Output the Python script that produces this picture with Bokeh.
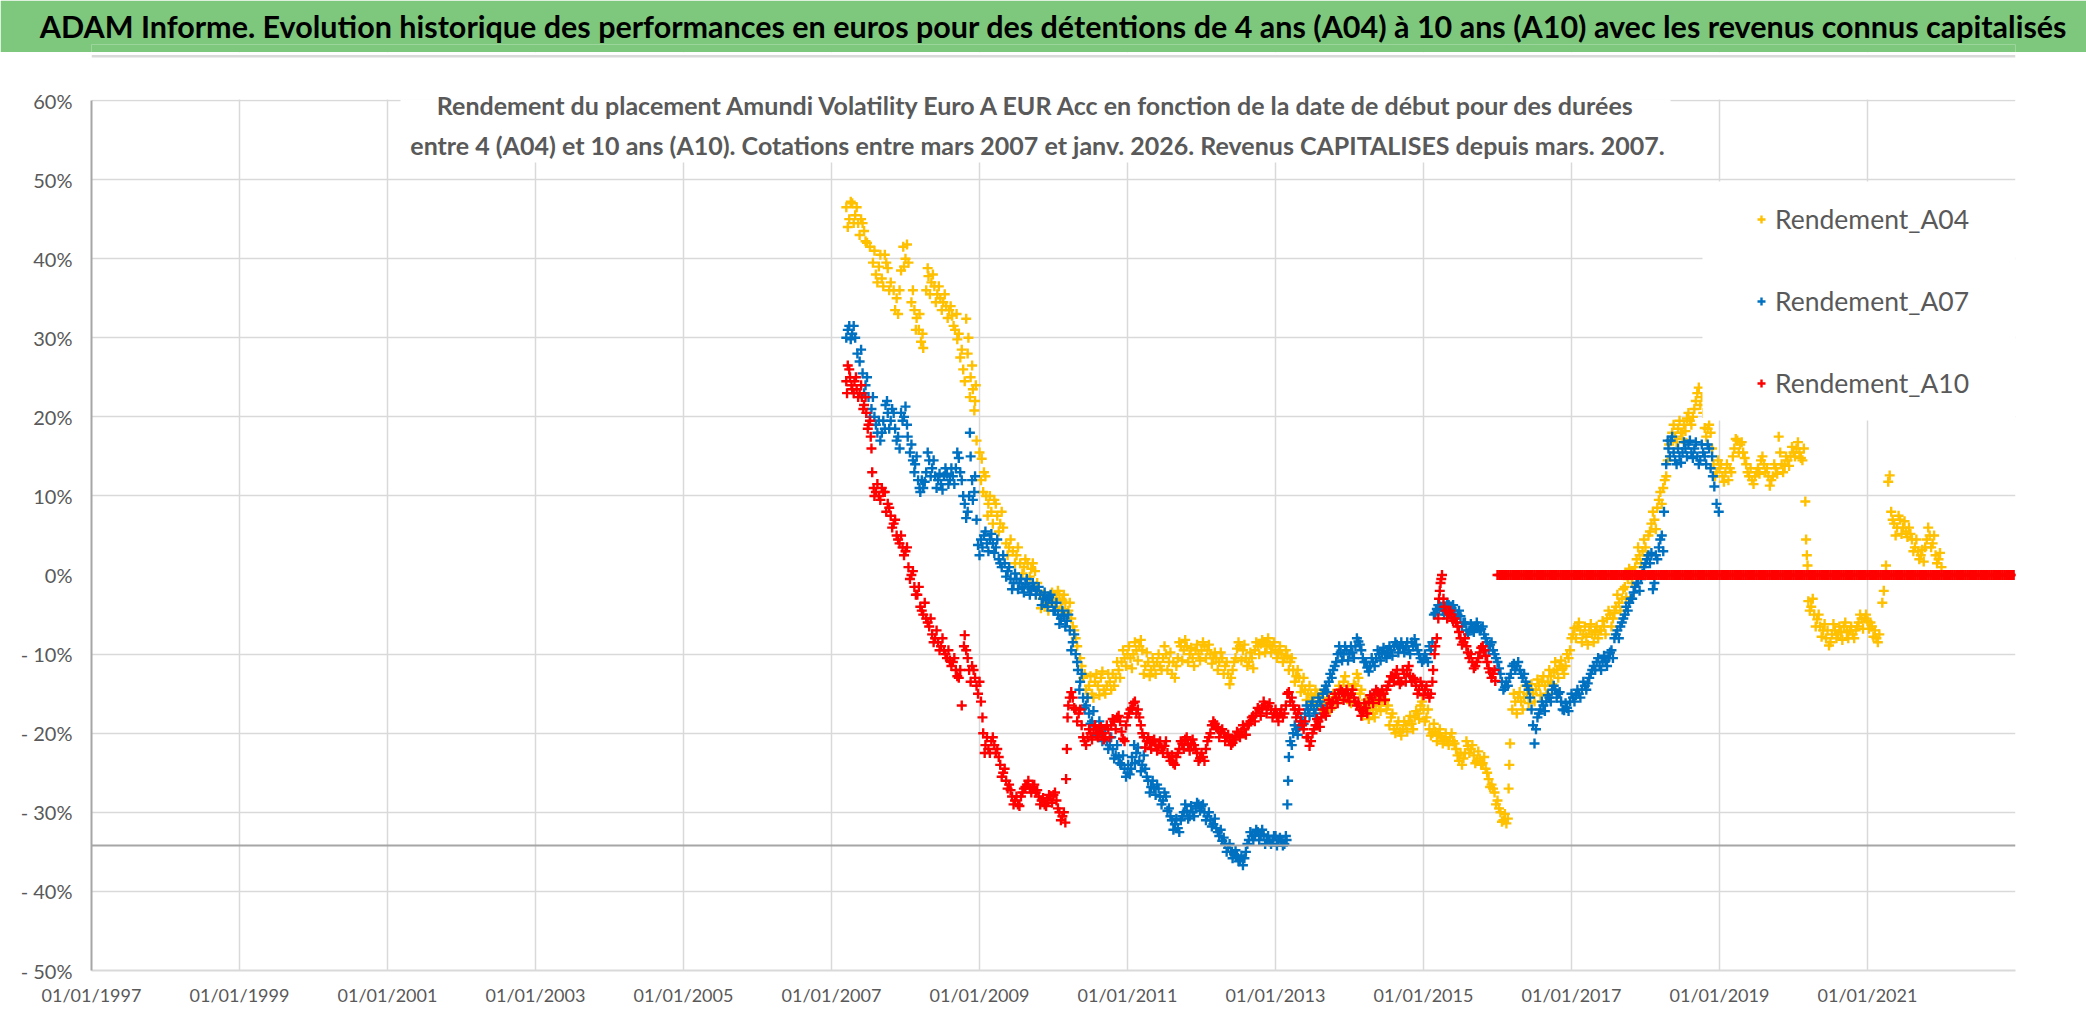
from bokeh.plotting import figure
from bokeh.models import (Range1d, FixedTicker, Span, BoxAnnotation, Label, Legend, LegendItem,
                          Title)
from bokeh.layouts import column
from bokeh.embed import file_html
from bokeh.resources import INLINE

# ---------------- texts ----------------
TITLE = ("ADAM Informe. Evolution historique des performances en euros pour des détentions "
         "de 4 ans (A04) à 10 ans (A10) avec les revenus connus capitalisés")
SUBTITLE_1 = ("Rendement du placement Amundi Volatility Euro A EUR Acc en fonction de la date "
              "de début pour des durées")
SUBTITLE_2 = ("entre 4 (A04) et 10 ans (A10). Cotations entre mars 2007 et janv. 2026. "
              "Revenus CAPITALISES depuis mars. 2007.")
SERIES_NAMES = ["Rendement_A04", "Rendement_A07", "Rendement_A10"]
SERIES_COLORS = ["#FFC000", "#0070C0", "#FF0000"]

X_TICKS = [1997, 1999, 2001, 2003, 2005, 2007, 2009, 2011, 2013, 2015, 2017, 2019, 2021]
X_TICK_LABELS = ["01/01/1997", "01/01/1999", "01/01/2001", "01/01/2003", "01/01/2005",
                 "01/01/2007", "01/01/2009", "01/01/2011", "01/01/2013", "01/01/2015",
                 "01/01/2017", "01/01/2019", "01/01/2021"]
Y_TICKS = [-50, -40, -30, -20, -10, 0, 10, 20, 30, 40, 50, 60]
Y_TICK_LABELS = ["- 50%", "- 40%", "- 30%", "- 20%", "- 10%", "0%",
                 "10%", "20%", "30%", "40%", "50%", "60%"]
X_MIN, X_MAX = 1997, 2023
Y_MIN, Y_MAX = -50, 60
AXIS_CROSS = -34.2

# ---------------- data: (start date as decimal year, return in %) ----------------
# main trace of each band
A04 = [
 (2007.20, 46.5), (2007.24, 45.0), (2007.28, 47.0), (2007.32, 45.5), (2007.36, 44.5),
 (2007.40, 45.0), (2007.44, 43.5), (2007.48, 42.0), (2007.52, 41.5), (2007.56, 39.5),
 (2007.60, 38.0), (2007.64, 39.0), (2007.68, 37.5), (2007.72, 40.5), (2007.76, 38.8),
 (2007.80, 37.0), (2007.84, 36.0), (2007.88, 35.0), (2007.90, 33.0), (2007.94, 38.5),
 (2007.97, 41.5), (2008.00, 40.0), (2008.04, 39.5), (2008.08, 34.5), (2008.12, 33.5),
 (2008.15, 32.5), (2008.18, 31.0), (2008.21, 29.5), (2008.24, 28.7), (2008.28, 36.0),
 (2008.31, 37.8), (2008.35, 37.0), (2008.39, 36.5), (2008.43, 35.5), (2008.47, 35.0),
 (2008.51, 34.5), (2008.55, 34.0), (2008.59, 33.5), (2008.63, 32.8), (2008.67, 31.0),
 (2008.70, 29.8), (2008.74, 27.5), (2008.78, 26.0), (2008.82, 32.4), (2008.85, 30.0),
 (2008.88, 25.0), (2008.91, 23.5), (2008.94, 22.0), (2008.96, 17.0), (2009.00, 15.5),
 (2009.03, 14.7), (2009.06, 13.0), (2009.09, 10.0), (2009.12, 9.0), (2009.16, 8.0),
 (2009.20, 9.5), (2009.24, 7.5), (2009.28, 6.5), (2009.32, 6.0), (2009.36, 4.0),
 (2009.40, 3.5), (2009.45, 3.0), (2009.50, 2.5), (2009.55, 1.5), (2009.60, 1.0),
 (2009.65, 1.5), (2009.70, 0.8), (2009.75, 0.5), (2009.80, -2.0), (2009.85, -3.0),
 (2009.90, -3.5), (2009.95, -3.3), (2010.00, -3.0), (2010.04, -3.0), (2010.08, -2.5),
 (2010.12, -3.2), (2010.16, -3.5), (2010.20, -4.5), (2010.24, -5.5), (2010.28, -7.0),
 (2010.32, -9.0), (2010.36, -10.5), (2010.40, -13.0), (2010.44, -14.5), (2010.48, -14.0),
 (2010.52, -15.0), (2010.56, -13.5), (2010.60, -14.0), (2010.64, -13.0), (2010.68, -14.5),
 (2010.72, -14.0), (2010.76, -13.5), (2010.80, -12.5), (2010.84, -13.0), (2010.88, -12.0),
 (2010.92, -11.0), (2010.96, -10.5), (2011.00, -10.0), (2011.04, -10.5), (2011.08, -10.0),
 (2011.12, -9.5), (2011.16, -9.0), (2011.20, -9.5), (2011.24, -11.5), (2011.28, -11.0),
 (2011.32, -12.0), (2011.36, -11.5), (2011.40, -11.0), (2011.44, -11.5), (2011.48, -10.5),
 (2011.52, -10.0), (2011.56, -11.0), (2011.60, -12.5), (2011.64, -13.0), (2011.68, -10.5),
 (2011.72, -9.0), (2011.76, -9.5), (2011.80, -9.0), (2011.84, -10.0), (2011.88, -10.5),
 (2011.92, -9.5), (2011.96, -10.0), (2012.00, -9.5), (2012.04, -9.0), (2012.08, -9.5),
 (2012.12, -10.0), (2012.16, -10.5), (2012.20, -10.5), (2012.24, -11.0), (2012.28, -10.5),
 (2012.32, -11.5), (2012.36, -12.5), (2012.40, -13.0), (2012.44, -11.0), (2012.48, -9.3),
 (2012.52, -9.0), (2012.56, -9.5), (2012.60, -10.5), (2012.64, -11.0), (2012.68, -10.5),
 (2012.72, -9.5), (2012.76, -9.0), (2012.80, -8.7), (2012.84, -8.5), (2012.88, -9.0),
 (2012.92, -8.8), (2012.96, -9.0), (2013.00, -9.5), (2013.04, -9.8), (2013.08, -10.0),
 (2013.12, -10.5), (2013.16, -10.2), (2013.20, -11.0), (2013.24, -12.0), (2013.28, -12.8),
 (2013.32, -13.0), (2013.36, -14.0), (2013.40, -14.5), (2013.44, -15.0), (2013.48, -15.2),
 (2013.52, -15.5), (2013.56, -15.0), (2013.60, -15.5), (2013.64, -16.0), (2013.68, -16.3),
 (2013.72, -16.5), (2013.76, -16.0), (2013.80, -15.5), (2013.84, -15.0), (2013.88, -14.5),
 (2013.92, -13.5), (2013.96, -15.0), (2014.00, -15.5), (2014.04, -15.0), (2014.08, -14.0),
 (2014.12, -13.0), (2014.16, -14.5), (2014.20, -16.5), (2014.24, -17.5), (2014.28, -17.0),
 (2014.32, -17.5), (2014.36, -17.0), (2014.40, -16.5), (2014.44, -16.0), (2014.48, -15.7),
 (2014.52, -16.5), (2014.56, -18.0), (2014.60, -19.5), (2014.64, -19.0), (2014.68, -19.8),
 (2014.72, -19.5), (2014.76, -19.0), (2014.80, -18.5), (2014.84, -18.8), (2014.88, -18.0),
 (2014.92, -17.5), (2014.96, -16.5), (2015.00, -17.0), (2015.04, -18.0), (2015.08, -19.5),
 (2015.12, -20.0), (2015.16, -19.8), (2015.20, -20.2), (2015.24, -20.5), (2015.28, -20.8),
 (2015.32, -21.0), (2015.36, -20.5), (2015.40, -21.0), (2015.44, -22.0), (2015.48, -23.5),
 (2015.52, -24.0), (2015.56, -22.5), (2015.60, -21.6), (2015.64, -22.0), (2015.68, -22.8),
 (2015.72, -23.5), (2015.76, -23.2), (2015.80, -23.8), (2015.84, -24.5), (2015.88, -25.8),
 (2015.92, -26.5), (2015.96, -27.5), (2016.00, -28.5), (2016.04, -30.0), (2016.08, -31.0),
 (2016.12, -31.4), (2016.15, -27.0), (2016.16, -24.0), (2016.17, -21.3), (2016.20, -17.0),
 (2016.24, -16.0), (2016.28, -15.5), (2016.32, -16.0), (2016.36, -15.5), (2016.40, -15.0),
 (2016.44, -14.5), (2016.48, -15.0), (2016.52, -14.5), (2016.56, -14.0), (2016.60, -13.5),
 (2016.64, -14.0), (2016.68, -13.5), (2016.72, -12.8), (2016.76, -12.3), (2016.80, -12.0),
 (2016.84, -11.5), (2016.88, -11.8), (2016.92, -11.5), (2016.96, -10.5), (2017.00, -8.0),
 (2017.04, -6.7), (2017.08, -6.5), (2017.12, -7.0), (2017.16, -7.5), (2017.20, -7.8),
 (2017.24, -7.0), (2017.28, -7.5), (2017.32, -7.2), (2017.36, -8.0), (2017.40, -7.0),
 (2017.44, -6.5), (2017.48, -5.5), (2017.52, -5.0), (2017.56, -5.5), (2017.60, -4.0),
 (2017.64, -3.5), (2017.68, -3.0), (2017.72, -1.5), (2017.76, -0.5), (2017.80, 0.0),
 (2017.84, 0.5), (2017.88, 2.0), (2017.92, 2.5), (2017.96, 3.0), (2018.00, 3.5),
 (2018.04, 5.0), (2018.08, 6.5), (2018.12, 7.0), (2018.16, 8.5), (2018.20, 10.5),
 (2018.24, 11.0), (2018.28, 12.5), (2018.32, 16.5), (2018.36, 18.0), (2018.40, 17.5),
 (2018.44, 18.5), (2018.48, 18.0), (2018.52, 19.0), (2018.56, 19.8), (2018.60, 19.5),
 (2018.64, 20.0), (2018.68, 22.0), (2018.72, 23.7), (2018.76, 22.5), (2018.80, 18.6),
 (2018.84, 18.5), (2018.88, 18.0), (2018.92, 14.0), (2018.96, 13.0), (2019.00, 13.5),
 (2019.04, 12.5), (2019.08, 13.0), (2019.12, 12.0), (2019.16, 13.0), (2019.20, 16.0),
 (2019.24, 17.0), (2019.28, 16.5), (2019.32, 15.5), (2019.36, 14.0), (2019.40, 12.5),
 (2019.44, 12.0), (2019.48, 12.5), (2019.52, 13.5), (2019.56, 14.5), (2019.60, 14.0),
 (2019.64, 13.5), (2019.68, 11.3), (2019.72, 12.5), (2019.76, 13.5), (2019.80, 17.5),
 (2019.84, 14.0), (2019.88, 13.8), (2019.92, 14.5), (2019.96, 15.0), (2020.00, 15.5),
 (2020.04, 16.0), (2020.08, 15.5), (2020.12, 14.5), (2020.16, 9.3), (2020.17, 4.5),
 (2020.18, 2.5), (2020.19, 1.2), (2020.20, -3.3), (2020.24, -4.0), (2020.28, -5.0),
 (2020.32, -5.6), (2020.36, -6.5), (2020.40, -7.0), (2020.44, -8.0), (2020.48, -8.9),
 (2020.52, -7.5), (2020.56, -7.0), (2020.60, -7.5), (2020.64, -7.2), (2020.68, -6.5),
 (2020.72, -7.2), (2020.76, -7.0), (2020.80, -7.5), (2020.84, -7.0), (2020.88, -6.0),
 (2020.92, -5.5), (2020.96, -5.5), (2021.00, -5.8), (2021.04, -6.0), (2021.08, -7.8),
 (2021.12, -8.0), (2021.16, -7.5), (2021.20, -3.5), (2021.22, -2.0), (2021.25, 1.2),
 (2021.28, 11.8), (2021.30, 12.6), (2021.32, 8.0), (2021.36, 6.5), (2021.40, 6.0),
 (2021.44, 7.0), (2021.48, 6.0), (2021.52, 5.5), (2021.56, 6.0), (2021.60, 4.5),
 (2021.64, 3.5), (2021.68, 3.0), (2021.72, 2.5), (2021.76, 1.7), (2021.80, 4.5),
 (2021.84, 5.0), (2021.88, 4.0), (2021.92, 2.5), (2021.96, 2.0), (2022.00, 1.0),
]
# other edge of the band (daily spread)
A04_SPREAD = [
 (2007.22, 44.0), (2007.26, 47.2), (2007.30, 44.5), (2007.34, 46.5), (2007.38, 43.0),
 (2007.42, 44.5), (2007.46, 42.2), (2007.58, 41.0), (2007.62, 37.0), (2007.66, 40.5),
 (2007.70, 36.5), (2007.74, 39.5), (2007.78, 36.0), (2007.86, 33.5), (2007.92, 36.0),
 (2007.98, 39.0), (2008.02, 41.8), (2008.10, 36.0), (2008.14, 31.0), (2008.19, 33.0),
 (2008.23, 30.5), (2008.30, 38.8), (2008.33, 35.5), (2008.37, 38.0), (2008.41, 34.5),
 (2008.45, 36.5), (2008.49, 33.5), (2008.53, 35.5), (2008.57, 32.5), (2008.61, 34.0),
 (2008.65, 31.5), (2008.69, 33.0), (2008.72, 30.5), (2008.76, 28.5), (2008.80, 24.5),
 (2008.84, 28.0), (2008.87, 22.5), (2008.90, 26.5), (2008.93, 20.8), (2008.95, 24.0),
 (2009.02, 12.0), (2009.05, 10.5), (2009.08, 12.5), (2009.11, 7.5), (2009.14, 10.0),
 (2009.18, 6.5), (2009.22, 9.0), (2009.26, 5.5), (2009.30, 8.0), (2009.38, 2.5),
 (2009.42, 4.5), (2009.48, 1.5), (2009.52, 3.5), (2009.58, 0.2), (2009.62, 2.0),
 (2009.68, -0.2), (2009.72, 1.5), (2009.78, -1.0), (2009.83, -4.2), (2009.88, -2.5),
 (2009.93, -4.5), (2009.98, -2.2), (2010.02, -4.0), (2010.06, -2.0), (2010.10, -4.2),
 (2010.14, -2.5), (2010.18, -4.8), (2010.22, -3.5), (2010.26, -6.5), (2010.30, -8.0),
 (2010.38, -11.5), (2010.42, -12.5), (2010.46, -15.5), (2010.50, -12.8), (2010.54, -15.5),
 (2010.58, -12.5), (2010.62, -15.2), (2010.66, -12.2), (2010.70, -15.0), (2010.74, -12.5),
 (2010.78, -14.5), (2010.82, -14.0), (2010.86, -11.0), (2010.90, -13.0), (2010.94, -9.5),
 (2010.98, -11.5), (2011.02, -9.0), (2011.06, -11.8), (2011.10, -8.5), (2011.14, -10.8),
 (2011.18, -8.2), (2011.22, -12.5), (2011.26, -9.8), (2011.30, -12.8), (2011.34, -10.5),
 (2011.38, -12.5), (2011.42, -10.0), (2011.46, -12.0), (2011.50, -9.0), (2011.54, -12.0),
 (2011.58, -9.8), (2011.62, -11.0), (2011.66, -11.5), (2011.70, -8.5), (2011.74, -10.8),
 (2011.78, -8.2), (2011.82, -11.0), (2011.86, -9.2), (2011.90, -11.5), (2011.94, -8.8),
 (2011.98, -10.8), (2012.02, -8.5), (2012.06, -10.5), (2012.10, -8.8), (2012.14, -11.2),
 (2012.18, -9.8), (2012.22, -12.0), (2012.26, -9.8), (2012.30, -12.5), (2012.34, -11.0),
 (2012.38, -13.8), (2012.42, -12.0), (2012.46, -10.5), (2012.50, -8.5), (2012.54, -10.8),
 (2012.58, -8.8), (2012.62, -11.5), (2012.66, -9.8), (2012.70, -11.8), (2012.74, -8.5),
 (2012.78, -10.0), (2012.82, -8.2), (2012.86, -9.8), (2012.90, -8.0), (2012.94, -9.8),
 (2012.98, -8.5), (2013.02, -10.5), (2013.06, -9.0), (2013.10, -11.0), (2013.14, -9.5),
 (2013.18, -12.0), (2013.22, -10.5), (2013.26, -13.5), (2013.30, -12.0), (2013.34, -14.8),
 (2013.38, -13.0), (2013.42, -15.8), (2013.46, -14.0), (2013.50, -16.3), (2013.54, -14.5),
 (2013.58, -16.5), (2013.62, -15.0), (2013.66, -17.2), (2013.70, -15.5), (2013.74, -17.0),
 (2013.78, -15.0), (2013.82, -16.2), (2013.86, -14.0), (2013.90, -15.5), (2013.94, -12.8),
 (2013.98, -14.0), (2014.02, -16.2), (2014.06, -13.8), (2014.10, -12.5), (2014.14, -15.0),
 (2014.18, -17.8), (2014.22, -15.8), (2014.26, -18.2), (2014.30, -16.5), (2014.34, -18.0),
 (2014.38, -16.0), (2014.42, -17.2), (2014.46, -15.0), (2014.50, -17.0), (2014.54, -19.0),
 (2014.58, -17.5), (2014.62, -20.0), (2014.66, -18.5), (2014.70, -20.3), (2014.74, -18.5),
 (2014.78, -19.8), (2014.82, -17.8), (2014.86, -19.5), (2014.90, -17.2), (2014.94, -18.2),
 (2014.98, -16.0), (2015.02, -18.5), (2015.06, -17.0), (2015.10, -20.3), (2015.14, -18.8),
 (2015.18, -21.0), (2015.22, -19.5), (2015.26, -21.3), (2015.30, -20.0), (2015.34, -21.5),
 (2015.38, -20.0), (2015.42, -21.3), (2015.46, -22.8), (2015.50, -22.5), (2015.54, -23.2),
 (2015.58, -21.0), (2015.62, -22.5), (2015.66, -21.5), (2015.70, -23.8), (2015.74, -22.3),
 (2015.78, -24.0), (2015.82, -23.0), (2015.86, -25.0), (2015.90, -26.8), (2015.94, -27.0),
 (2015.98, -29.0), (2016.02, -29.5), (2016.06, -31.2), (2016.10, -30.2), (2016.14, -30.8),
 (2016.22, -15.0), (2016.26, -17.5), (2016.30, -14.8), (2016.34, -17.0), (2016.38, -14.0),
 (2016.42, -16.2), (2016.46, -13.8), (2016.50, -16.0), (2016.54, -13.2), (2016.58, -15.2),
 (2016.62, -12.8), (2016.66, -15.0), (2016.70, -12.0), (2016.74, -13.8), (2016.78, -11.0),
 (2016.82, -13.0), (2016.86, -10.8), (2016.90, -12.5), (2016.94, -10.0), (2016.98, -9.5),
 (2017.02, -7.5), (2017.06, -8.0), (2017.10, -6.0), (2017.14, -8.5), (2017.18, -6.5),
 (2017.22, -8.8), (2017.26, -6.2), (2017.30, -8.5), (2017.34, -6.5), (2017.38, -7.0),
 (2017.42, -5.8), (2017.46, -7.5), (2017.50, -4.5), (2017.54, -6.5), (2017.58, -4.8),
 (2017.62, -2.5), (2017.66, -4.5), (2017.70, -1.8), (2017.74, -2.8), (2017.78, 0.8),
 (2017.82, -1.0), (2017.86, 1.0), (2017.90, 3.5), (2017.94, 1.5), (2017.98, 4.5),
 (2018.02, 2.5), (2018.06, 5.5), (2018.10, 8.0), (2018.14, 5.8), (2018.18, 9.5),
 (2018.22, 9.0), (2018.26, 12.0), (2018.30, 14.5), (2018.34, 17.0), (2018.38, 19.0),
 (2018.42, 16.8), (2018.46, 19.5), (2018.50, 17.2), (2018.54, 18.2), (2018.58, 20.5),
 (2018.62, 19.0), (2018.66, 21.0), (2018.70, 23.0), (2018.74, 21.5), (2018.78, 20.5),
 (2018.82, 17.5), (2018.86, 19.0), (2018.90, 16.0), (2018.94, 12.5), (2018.98, 14.5),
 (2019.02, 14.0), (2019.06, 11.8), (2019.10, 14.0), (2019.14, 13.5), (2019.18, 15.0),
 (2019.22, 17.2), (2019.26, 15.5), (2019.30, 16.8), (2019.34, 14.8), (2019.38, 13.0),
 (2019.42, 13.5), (2019.46, 11.5), (2019.50, 13.0), (2019.54, 12.8), (2019.58, 15.0),
 (2019.62, 13.0), (2019.66, 12.5), (2019.70, 12.0), (2019.74, 14.0), (2019.78, 12.8),
 (2019.82, 15.5), (2019.86, 13.0), (2019.90, 15.0), (2019.94, 13.8), (2019.98, 16.2),
 (2020.02, 15.0), (2020.06, 16.8), (2020.10, 14.8), (2020.14, 16.0), (2020.22, -4.5),
 (2020.26, -3.0), (2020.30, -6.5), (2020.34, -5.0), (2020.38, -7.8), (2020.42, -6.2),
 (2020.46, -7.0), (2020.50, -8.5), (2020.54, -6.2), (2020.58, -8.0), (2020.62, -6.5),
 (2020.66, -8.2), (2020.70, -6.0), (2020.74, -8.0), (2020.78, -6.5), (2020.82, -8.0),
 (2020.86, -6.5), (2020.90, -5.0), (2020.94, -6.8), (2020.98, -5.0), (2021.02, -6.8),
 (2021.06, -6.5), (2021.10, -7.0), (2021.14, -8.5), (2021.34, 7.0), (2021.38, 5.0),
 (2021.42, 7.5), (2021.46, 5.2), (2021.50, 6.8), (2021.54, 4.8), (2021.58, 5.2),
 (2021.62, 3.0), (2021.66, 4.5), (2021.70, 2.0), (2021.74, 3.2), (2021.78, 3.5),
 (2021.82, 6.0), (2021.86, 3.5), (2021.90, 5.0), (2021.94, 1.5), (2021.98, 2.8),
]

A07 = [
 (2007.20, 30.0), (2007.24, 31.5), (2007.28, 30.5), (2007.32, 30.0), (2007.35, 28.0),
 (2007.38, 27.0), (2007.42, 25.5), (2007.46, 24.0), (2007.50, 22.5), (2007.54, 21.0),
 (2007.58, 20.0), (2007.62, 18.0), (2007.66, 17.0), (2007.70, 19.5), (2007.73, 21.5),
 (2007.76, 20.5), (2007.80, 19.5), (2007.84, 20.5), (2007.88, 17.0), (2007.92, 16.0),
 (2007.96, 19.5), (2008.00, 21.3), (2008.03, 17.5), (2008.06, 15.5), (2008.10, 14.5),
 (2008.13, 14.0), (2008.17, 12.0), (2008.20, 10.5), (2008.24, 11.0), (2008.28, 13.0),
 (2008.32, 14.5), (2008.36, 13.5), (2008.40, 12.5), (2008.44, 12.0), (2008.48, 11.5),
 (2008.52, 12.5), (2008.56, 12.8), (2008.60, 12.0), (2008.64, 12.5), (2008.68, 13.5),
 (2008.72, 14.8), (2008.76, 12.0), (2008.80, 9.0), (2008.84, 8.0), (2008.87, 18.0),
 (2008.90, 12.0), (2008.93, 10.5), (2008.96, 7.0), (2008.98, 3.8), (2009.02, 4.5),
 (2009.06, 5.0), (2009.10, 4.0), (2009.14, 4.5), (2009.18, 4.0), (2009.22, 3.5),
 (2009.26, 2.0), (2009.30, 1.0), (2009.34, 1.5), (2009.38, 0.5), (2009.42, -0.5),
 (2009.46, -1.0), (2009.50, -0.5), (2009.54, -1.0), (2009.58, -1.5), (2009.62, -1.2),
 (2009.66, -1.5), (2009.70, -1.8), (2009.74, -1.5), (2009.78, -2.0), (2009.82, -2.5),
 (2009.86, -3.0), (2009.90, -3.2), (2009.94, -2.8), (2009.98, -3.5), (2010.02, -4.5),
 (2010.06, -5.0), (2010.10, -5.5), (2010.14, -5.2), (2010.18, -5.8), (2010.22, -7.0),
 (2010.26, -8.5), (2010.30, -10.0), (2010.33, -12.0), (2010.36, -13.5), (2010.40, -15.5),
 (2010.44, -16.5), (2010.48, -17.5), (2010.52, -18.5), (2010.56, -19.0), (2010.60, -19.5),
 (2010.64, -20.0), (2010.68, -20.5), (2010.72, -21.0), (2010.76, -21.5), (2010.80, -22.0),
 (2010.84, -22.8), (2010.88, -23.0), (2010.92, -24.0), (2010.96, -24.5), (2011.00, -25.0),
 (2011.03, -25.2), (2011.06, -23.0), (2011.09, -21.5), (2011.12, -22.5), (2011.16, -23.5),
 (2011.20, -24.0), (2011.24, -24.5), (2011.28, -26.0), (2011.32, -26.8), (2011.36, -27.0),
 (2011.40, -26.5), (2011.44, -28.0), (2011.48, -28.5), (2011.52, -28.0), (2011.56, -29.5),
 (2011.60, -31.0), (2011.64, -31.5), (2011.68, -32.0), (2011.72, -31.0), (2011.76, -30.0),
 (2011.80, -29.8), (2011.84, -30.5), (2011.88, -30.0), (2011.92, -29.5), (2011.96, -29.0),
 (2012.00, -29.2), (2012.04, -30.0), (2012.08, -30.5), (2012.12, -31.0), (2012.16, -31.5),
 (2012.20, -32.0), (2012.24, -33.0), (2012.28, -33.6), (2012.32, -34.0), (2012.36, -34.5),
 (2012.40, -35.0), (2012.44, -35.3), (2012.48, -35.5), (2012.52, -36.0), (2012.56, -36.7),
 (2012.60, -35.0), (2012.64, -33.5), (2012.68, -33.0), (2012.72, -32.8), (2012.76, -32.5),
 (2012.80, -33.0), (2012.84, -32.8), (2012.88, -33.5), (2012.92, -33.7), (2012.96, -33.5),
 (2013.00, -33.0), (2013.04, -33.5), (2013.08, -33.7), (2013.12, -34.0), (2013.15, -33.5),
 (2013.16, -29.0), (2013.17, -26.0), (2013.18, -23.0), (2013.20, -21.0), (2013.24, -20.0),
 (2013.28, -19.5), (2013.32, -19.2), (2013.36, -18.5), (2013.40, -17.5), (2013.44, -17.0),
 (2013.48, -16.5), (2013.52, -17.0), (2013.56, -16.5), (2013.60, -16.0), (2013.64, -15.0),
 (2013.68, -14.0), (2013.72, -13.5), (2013.76, -13.0), (2013.80, -11.5), (2013.84, -10.0),
 (2013.88, -9.8), (2013.92, -10.0), (2013.96, -9.5), (2014.00, -10.0), (2014.04, -9.8),
 (2014.08, -9.0), (2014.12, -8.4), (2014.16, -9.5), (2014.20, -11.0), (2014.24, -11.7),
 (2014.28, -11.5), (2014.32, -11.0), (2014.36, -10.5), (2014.40, -10.0), (2014.44, -9.8),
 (2014.48, -10.0), (2014.52, -9.8), (2014.56, -9.5), (2014.60, -9.0), (2014.64, -8.8),
 (2014.68, -9.0), (2014.72, -9.2), (2014.76, -9.0), (2014.80, -9.5), (2014.84, -8.5),
 (2014.88, -8.1), (2014.92, -9.5), (2014.96, -10.5), (2015.00, -10.7), (2015.04, -10.5),
 (2015.08, -9.0), (2015.12, -8.5), (2015.14, -5.0), (2015.18, -4.3), (2015.22, -4.0),
 (2015.26, -4.5), (2015.30, -4.0), (2015.34, -3.8), (2015.38, -4.2), (2015.42, -4.5),
 (2015.46, -5.0), (2015.50, -5.2), (2015.54, -6.0), (2015.58, -7.0), (2015.62, -7.0),
 (2015.66, -6.8), (2015.70, -6.5), (2015.74, -6.5), (2015.78, -6.8), (2015.82, -7.5),
 (2015.86, -8.5), (2015.90, -8.8), (2015.94, -9.5), (2015.98, -10.5), (2016.02, -11.8),
 (2016.06, -13.5), (2016.10, -14.2), (2016.14, -14.0), (2016.18, -12.5), (2016.22, -11.2),
 (2016.26, -11.5), (2016.30, -12.0), (2016.34, -13.0), (2016.38, -13.5), (2016.42, -14.5),
 (2016.46, -17.0), (2016.48, -19.0), (2016.50, -21.3), (2016.54, -18.0), (2016.58, -17.0),
 (2016.62, -16.5), (2016.66, -16.0), (2016.70, -15.5), (2016.74, -14.5), (2016.78, -14.5),
 (2016.82, -15.0), (2016.86, -16.0), (2016.90, -17.1), (2016.94, -16.8), (2016.98, -16.0),
 (2017.02, -15.5), (2017.06, -15.2), (2017.10, -15.0), (2017.14, -14.5), (2017.18, -14.0),
 (2017.22, -13.7), (2017.26, -12.5), (2017.30, -11.5), (2017.34, -11.0), (2017.38, -11.5),
 (2017.42, -11.0), (2017.46, -10.8), (2017.50, -10.5), (2017.54, -9.5), (2017.58, -8.0),
 (2017.62, -7.0), (2017.66, -6.5), (2017.70, -5.5), (2017.74, -4.0), (2017.78, -3.5),
 (2017.82, -3.0), (2017.86, -1.5), (2017.90, -1.0), (2017.94, -0.5), (2017.98, 1.0),
 (2018.02, 2.0), (2018.06, 1.5), (2018.10, -1.8), (2018.14, 2.5), (2018.18, 3.5),
 (2018.22, 5.0), (2018.25, 8.0), (2018.28, 14.0), (2018.31, 16.0), (2018.34, 17.0),
 (2018.38, 15.5), (2018.42, 14.0), (2018.46, 15.0), (2018.50, 15.5), (2018.54, 16.0),
 (2018.58, 16.5), (2018.62, 15.5), (2018.66, 16.0), (2018.70, 15.0), (2018.74, 14.5),
 (2018.78, 15.5), (2018.82, 14.0), (2018.86, 16.0), (2018.90, 15.0), (2018.93, 11.2),
 (2018.96, 9.0), (2018.99, 8.0),
]
A07_SPREAD = [
 (2007.22, 31.0), (2007.26, 29.8), (2007.30, 31.5), (2007.40, 28.5), (2007.44, 23.0),
 (2007.48, 25.0), (2007.52, 20.0), (2007.56, 22.5), (2007.60, 19.0), (2007.64, 19.5),
 (2007.68, 18.0), (2007.72, 18.5), (2007.75, 22.0), (2007.78, 18.5), (2007.82, 21.0),
 (2007.86, 18.5), (2007.90, 17.5), (2007.94, 20.5), (2007.98, 20.0), (2008.02, 19.0),
 (2008.08, 16.5), (2008.12, 13.0), (2008.15, 15.0), (2008.19, 11.0), (2008.22, 12.0),
 (2008.26, 11.8), (2008.30, 15.5), (2008.34, 12.5), (2008.38, 14.5), (2008.42, 11.0),
 (2008.46, 12.8), (2008.50, 10.8), (2008.54, 13.5), (2008.58, 11.5), (2008.62, 13.5),
 (2008.66, 11.5), (2008.70, 15.5), (2008.74, 13.0), (2008.78, 10.0), (2008.82, 7.2),
 (2008.86, 10.0), (2008.88, 15.0), (2008.91, 9.5), (2008.94, 12.5), (2009.00, 2.5),
 (2009.04, 3.5), (2009.08, 5.5), (2009.12, 3.0), (2009.16, 5.2), (2009.20, 2.8),
 (2009.24, 4.5), (2009.28, 1.5), (2009.32, 2.5), (2009.36, -0.2), (2009.40, 1.0),
 (2009.44, -1.8), (2009.48, 0.2), (2009.52, -1.8), (2009.56, -0.5), (2009.60, -2.2),
 (2009.64, -0.5), (2009.68, -2.5), (2009.72, -1.0), (2009.76, -2.5), (2009.80, -1.5),
 (2009.84, -3.8), (2009.88, -2.2), (2009.92, -4.0), (2009.96, -2.5), (2010.00, -4.5),
 (2010.04, -3.5), (2010.08, -6.2), (2010.12, -4.5), (2010.16, -6.5), (2010.20, -5.0),
 (2010.24, -9.5), (2010.28, -7.5), (2010.32, -11.0), (2010.35, -14.5), (2010.38, -12.5),
 (2010.42, -16.8), (2010.46, -15.5), (2010.50, -18.8), (2010.54, -17.2), (2010.58, -20.2),
 (2010.62, -18.5), (2010.66, -21.0), (2010.70, -19.5), (2010.74, -22.0), (2010.78, -20.5),
 (2010.82, -23.2), (2010.86, -21.5), (2010.90, -23.8), (2010.94, -22.8), (2010.98, -25.5),
 (2011.01, -24.0), (2011.05, -24.5), (2011.10, -23.8), (2011.14, -21.8), (2011.18, -24.8),
 (2011.22, -22.8), (2011.26, -25.5), (2011.30, -27.5), (2011.34, -26.0), (2011.38, -27.8),
 (2011.42, -27.0), (2011.46, -29.0), (2011.50, -27.5), (2011.54, -29.8), (2011.58, -30.5),
 (2011.62, -32.2), (2011.66, -30.8), (2011.70, -32.5), (2011.74, -30.5), (2011.78, -29.0),
 (2011.82, -30.8), (2011.86, -29.2), (2011.90, -30.5), (2011.94, -28.8), (2011.98, -29.8),
 (2012.02, -29.0), (2012.06, -31.0), (2012.10, -30.0), (2012.14, -31.8), (2012.18, -30.8),
 (2012.22, -32.5), (2012.26, -32.2), (2012.30, -33.2), (2012.34, -35.0), (2012.38, -34.0),
 (2012.42, -35.8), (2012.46, -34.8), (2012.50, -36.2), (2012.54, -35.5), (2012.58, -35.8),
 (2012.62, -34.0), (2012.66, -32.5), (2012.70, -33.5), (2012.74, -32.2), (2012.78, -33.5),
 (2012.82, -32.2), (2012.86, -34.0), (2012.90, -33.0), (2012.94, -34.0), (2012.98, -33.0),
 (2013.02, -34.2), (2013.06, -33.2), (2013.10, -34.2), (2013.14, -33.0), (2013.22, -21.5),
 (2013.26, -19.0), (2013.30, -20.2), (2013.34, -18.0), (2013.38, -18.8), (2013.42, -16.5),
 (2013.46, -17.8), (2013.50, -16.0), (2013.54, -17.5), (2013.58, -15.5), (2013.62, -16.5),
 (2013.66, -14.5), (2013.70, -14.8), (2013.74, -12.5), (2013.78, -12.0), (2013.82, -11.0),
 (2013.86, -9.0), (2013.90, -10.8), (2013.94, -9.0), (2013.98, -10.8), (2014.02, -9.0),
 (2014.06, -10.5), (2014.10, -8.0), (2014.14, -8.8), (2014.18, -10.5), (2014.22, -11.0),
 (2014.26, -12.2), (2014.30, -10.5), (2014.34, -11.5), (2014.38, -9.5), (2014.42, -10.8),
 (2014.46, -9.2), (2014.50, -10.5), (2014.54, -9.0), (2014.58, -10.2), (2014.62, -8.5),
 (2014.66, -9.8), (2014.70, -8.5), (2014.74, -9.8), (2014.78, -8.5), (2014.82, -10.0),
 (2014.86, -9.0), (2014.90, -8.8), (2014.94, -10.0), (2014.98, -11.0), (2015.02, -10.0),
 (2015.06, -11.0), (2015.10, -9.5), (2015.16, -4.8), (2015.20, -3.8), (2015.24, -4.0),
 (2015.28, -5.0), (2015.32, -3.5), (2015.36, -4.8), (2015.40, -3.8), (2015.44, -5.5),
 (2015.48, -4.5), (2015.52, -6.5), (2015.56, -6.0), (2015.60, -7.5), (2015.64, -6.2),
 (2015.68, -7.2), (2015.72, -6.0), (2015.76, -7.0), (2015.80, -6.5), (2015.84, -8.0),
 (2015.88, -9.5), (2015.92, -8.5), (2015.96, -10.0), (2016.00, -11.0), (2016.04, -12.5),
 (2016.08, -14.5), (2016.12, -13.5), (2016.16, -13.0), (2016.20, -11.5), (2016.24, -12.0),
 (2016.28, -11.0), (2016.32, -12.5), (2016.36, -12.5), (2016.40, -14.0), (2016.44, -15.5),
 (2016.52, -19.5), (2016.56, -17.5), (2016.60, -16.0), (2016.64, -17.2), (2016.68, -15.2),
 (2016.72, -16.0), (2016.76, -14.0), (2016.80, -15.5), (2016.84, -14.8), (2016.88, -17.0),
 (2016.92, -16.2), (2016.96, -17.2), (2017.00, -15.0), (2017.04, -16.0), (2017.08, -14.5),
 (2017.12, -15.5), (2017.16, -13.5), (2017.20, -14.5), (2017.24, -13.0), (2017.28, -12.0),
 (2017.32, -12.0), (2017.36, -10.5), (2017.40, -12.0), (2017.44, -10.2), (2017.48, -11.5),
 (2017.52, -9.8), (2017.56, -10.5), (2017.60, -7.5), (2017.64, -8.0), (2017.68, -6.0),
 (2017.72, -5.0), (2017.76, -4.5), (2017.80, -3.0), (2017.84, -2.2), (2017.88, -1.0),
 (2017.92, -2.0), (2017.96, 0.2), (2018.00, 1.5), (2018.04, 2.5), (2018.08, 2.8),
 (2018.12, -1.0), (2018.16, 2.0), (2018.20, 4.5), (2018.24, 3.0), (2018.30, 17.0),
 (2018.33, 15.0), (2018.36, 17.5), (2018.40, 14.5), (2018.44, 16.0), (2018.48, 14.2),
 (2018.52, 16.8), (2018.56, 15.0), (2018.60, 17.0), (2018.64, 14.8), (2018.68, 16.8),
 (2018.72, 14.0), (2018.76, 16.5), (2018.80, 15.0), (2018.84, 16.5), (2018.88, 13.5),
 (2018.91, 12.5),
]

A10 = [
 (2007.20, 24.5), (2007.22, 26.5), (2007.25, 25.0), (2007.28, 23.5), (2007.31, 24.5),
 (2007.34, 23.5), (2007.38, 23.0), (2007.41, 22.5), (2007.44, 21.5), (2007.47, 20.5),
 (2007.50, 19.0), (2007.53, 17.5), (2007.55, 13.0), (2007.57, 11.0), (2007.60, 10.5),
 (2007.64, 10.0), (2007.68, 11.0), (2007.72, 10.5), (2007.76, 9.0), (2007.80, 7.5),
 (2007.84, 6.5), (2007.88, 5.0), (2007.92, 4.0), (2007.96, 3.5), (2008.00, 3.0),
 (2008.04, 1.0), (2008.08, 0.0), (2008.12, -1.5), (2008.16, -2.5), (2008.20, -4.0),
 (2008.24, -5.0), (2008.28, -5.5), (2008.32, -6.5), (2008.36, -7.5), (2008.40, -8.0),
 (2008.44, -8.5), (2008.48, -9.0), (2008.52, -9.5), (2008.56, -10.5), (2008.60, -10.8),
 (2008.64, -11.0), (2008.68, -12.0), (2008.72, -13.0), (2008.76, -16.5), (2008.80, -7.6),
 (2008.82, -9.5), (2008.86, -12.0), (2008.90, -11.5), (2008.94, -13.0), (2008.98, -15.0),
 (2009.02, -16.0), (2009.05, -20.0), (2009.08, -21.5), (2009.12, -22.0), (2009.16, -21.0),
 (2009.20, -21.5), (2009.24, -22.0), (2009.28, -24.0), (2009.32, -25.0), (2009.36, -26.0),
 (2009.40, -26.5), (2009.44, -28.0), (2009.48, -28.5), (2009.52, -29.0), (2009.56, -28.0),
 (2009.60, -27.0), (2009.64, -26.5), (2009.68, -27.0), (2009.72, -26.8), (2009.76, -27.5),
 (2009.80, -28.0), (2009.84, -28.5), (2009.88, -29.0), (2009.92, -28.5), (2009.96, -28.0),
 (2010.00, -27.8), (2010.04, -28.5), (2010.08, -30.0), (2010.12, -30.5), (2010.16, -31.3),
 (2010.17, -25.8), (2010.18, -22.0), (2010.19, -18.0), (2010.22, -15.5), (2010.26, -15.5),
 (2010.30, -17.0), (2010.34, -17.5), (2010.38, -19.0), (2010.42, -21.0), (2010.46, -20.5),
 (2010.50, -20.0), (2010.54, -19.5), (2010.58, -20.0), (2010.62, -19.8), (2010.66, -20.0),
 (2010.70, -20.5), (2010.74, -19.5), (2010.78, -19.0), (2010.82, -18.5), (2010.86, -18.0),
 (2010.90, -18.5), (2010.94, -20.7), (2010.98, -19.0), (2011.02, -17.5), (2011.06, -16.8),
 (2011.10, -16.0), (2011.14, -17.0), (2011.18, -19.0), (2011.22, -20.5), (2011.26, -21.0),
 (2011.30, -21.2), (2011.34, -21.0), (2011.38, -21.5), (2011.42, -21.6), (2011.46, -21.8),
 (2011.50, -21.6), (2011.54, -22.5), (2011.58, -23.5), (2011.62, -23.8), (2011.66, -23.0),
 (2011.70, -22.0), (2011.74, -21.3), (2011.78, -20.8), (2011.82, -21.5), (2011.86, -21.3),
 (2011.90, -21.5), (2011.94, -22.5), (2011.98, -23.2), (2012.02, -23.0), (2012.06, -22.0),
 (2012.10, -20.5), (2012.14, -19.0), (2012.18, -18.8), (2012.22, -19.5), (2012.26, -19.8),
 (2012.30, -20.0), (2012.34, -20.5), (2012.38, -21.0), (2012.42, -21.2), (2012.46, -20.5),
 (2012.50, -20.0), (2012.54, -19.8), (2012.58, -19.5), (2012.62, -19.0), (2012.66, -18.5),
 (2012.70, -17.8), (2012.74, -17.5), (2012.78, -17.0), (2012.82, -16.8), (2012.86, -16.5),
 (2012.90, -16.6), (2012.94, -17.0), (2012.98, -17.5), (2013.02, -17.8), (2013.06, -17.5),
 (2013.10, -18.0), (2013.14, -16.5), (2013.18, -14.8), (2013.22, -15.5), (2013.26, -17.0),
 (2013.30, -17.5), (2013.34, -18.5), (2013.38, -19.5), (2013.42, -20.5), (2013.46, -21.6),
 (2013.50, -20.0), (2013.54, -19.0), (2013.58, -18.5), (2013.62, -18.0), (2013.66, -17.5),
 (2013.70, -16.8), (2013.74, -16.2), (2013.78, -16.0), (2013.82, -15.5), (2013.86, -15.0),
 (2013.90, -14.8), (2013.94, -15.0), (2013.98, -15.2), (2014.02, -15.0), (2014.06, -15.5),
 (2014.10, -16.5), (2014.14, -17.0), (2014.18, -17.2), (2014.22, -16.8), (2014.26, -16.0),
 (2014.30, -15.5), (2014.34, -15.0), (2014.38, -14.8), (2014.42, -15.2), (2014.46, -15.0),
 (2014.50, -14.5), (2014.54, -13.5), (2014.58, -12.8), (2014.62, -12.5), (2014.66, -13.0),
 (2014.70, -13.5), (2014.74, -12.5), (2014.78, -12.0), (2014.82, -12.8), (2014.86, -13.0),
 (2014.90, -14.0), (2014.94, -14.5), (2014.98, -14.0), (2015.02, -14.5), (2015.06, -15.0),
 (2015.10, -15.0), (2015.13, -12.0), (2015.15, -10.0), (2015.18, -8.0), (2015.21, -3.0),
 (2015.23, -1.0), (2015.25, 0.0), (2015.27, -3.0), (2015.30, -4.5), (2015.34, -4.8),
 (2015.38, -5.0), (2015.42, -5.5), (2015.46, -6.5), (2015.50, -8.0), (2015.54, -8.5),
 (2015.58, -9.0), (2015.62, -10.5), (2015.66, -11.0), (2015.70, -11.5), (2015.74, -10.5),
 (2015.78, -9.2), (2015.82, -9.5), (2015.86, -11.0), (2015.90, -12.3), (2015.94, -12.5),
 (2015.97, -13.4),
]
A10_SPREAD = [
 (2007.21, 23.0), (2007.24, 26.0), (2007.27, 24.0), (2007.30, 23.0), (2007.33, 25.0),
 (2007.36, 22.5), (2007.40, 24.0), (2007.43, 21.0), (2007.46, 22.5), (2007.49, 18.5),
 (2007.52, 19.5), (2007.54, 16.0), (2007.58, 10.0), (2007.62, 11.5), (2007.66, 9.5),
 (2007.70, 10.5), (2007.74, 8.0), (2007.78, 8.5), (2007.82, 6.0), (2007.86, 7.0),
 (2007.90, 4.5), (2007.94, 5.0), (2007.98, 2.5), (2008.02, 3.5), (2008.06, -0.5),
 (2008.10, 0.5), (2008.14, -2.5), (2008.18, -1.5), (2008.22, -4.5), (2008.26, -3.5),
 (2008.30, -6.0), (2008.34, -5.5), (2008.38, -8.5), (2008.42, -7.0), (2008.46, -9.5),
 (2008.50, -8.0), (2008.54, -10.0), (2008.58, -9.5), (2008.62, -11.5), (2008.66, -10.5),
 (2008.70, -12.8), (2008.74, -12.0), (2008.79, -9.0), (2008.84, -10.5), (2008.88, -13.5),
 (2008.92, -12.0), (2008.96, -14.0), (2009.00, -13.5), (2009.04, -18.0), (2009.07, -22.5),
 (2009.10, -20.5), (2009.14, -22.5), (2009.18, -20.5), (2009.22, -22.5), (2009.26, -23.0),
 (2009.30, -25.5), (2009.34, -24.5), (2009.38, -27.0), (2009.42, -27.2), (2009.46, -29.0),
 (2009.50, -28.0), (2009.54, -29.2), (2009.58, -27.5), (2009.62, -26.8), (2009.66, -26.0),
 (2009.70, -27.5), (2009.74, -26.5), (2009.78, -27.2), (2009.82, -29.0), (2009.86, -28.2),
 (2009.90, -29.2), (2009.94, -27.8), (2009.98, -28.8), (2010.02, -27.5), (2010.06, -29.5),
 (2010.10, -31.0), (2010.14, -30.0), (2010.20, -16.5), (2010.24, -14.8), (2010.28, -16.8),
 (2010.32, -18.5), (2010.36, -17.0), (2010.40, -20.5), (2010.44, -21.5), (2010.48, -19.5),
 (2010.52, -20.8), (2010.56, -19.0), (2010.60, -20.5), (2010.64, -19.2), (2010.68, -20.8),
 (2010.72, -19.0), (2010.76, -20.5), (2010.80, -18.2), (2010.84, -19.5), (2010.88, -17.8),
 (2010.92, -19.8), (2010.96, -21.0), (2011.00, -18.0), (2011.04, -17.0), (2011.08, -16.2),
 (2011.12, -17.5), (2011.16, -18.0), (2011.20, -20.0), (2011.24, -21.8), (2011.28, -20.5),
 (2011.32, -22.0), (2011.36, -20.8), (2011.40, -22.2), (2011.44, -21.0), (2011.48, -22.5),
 (2011.52, -21.0), (2011.56, -23.0), (2011.60, -22.8), (2011.64, -24.0), (2011.68, -22.5),
 (2011.72, -21.0), (2011.76, -22.0), (2011.80, -20.5), (2011.84, -22.2), (2011.88, -20.8),
 (2011.92, -22.0), (2011.96, -23.5), (2012.00, -22.5), (2012.04, -23.5), (2012.08, -21.0),
 (2012.12, -20.0), (2012.16, -18.5), (2012.20, -19.2), (2012.24, -20.5), (2012.28, -19.5),
 (2012.32, -21.0), (2012.36, -20.2), (2012.40, -21.5), (2012.44, -20.8), (2012.48, -19.8),
 (2012.52, -20.5), (2012.56, -19.0), (2012.60, -20.2), (2012.64, -18.8), (2012.68, -18.0),
 (2012.72, -18.5), (2012.76, -16.8), (2012.80, -17.8), (2012.84, -16.0), (2012.88, -17.5),
 (2012.92, -16.2), (2012.96, -18.0), (2013.00, -17.0), (2013.04, -18.5), (2013.08, -17.0),
 (2013.12, -17.5), (2013.16, -15.0), (2013.20, -16.0), (2013.24, -16.5), (2013.28, -18.0),
 (2013.32, -17.0), (2013.36, -19.0), (2013.40, -18.5), (2013.44, -20.5), (2013.48, -21.0),
 (2013.52, -19.5), (2013.56, -18.2), (2013.60, -19.2), (2013.64, -17.0), (2013.68, -17.8),
 (2013.72, -15.8), (2013.76, -16.8), (2013.80, -15.0), (2013.84, -16.2), (2013.88, -14.5),
 (2013.92, -15.8), (2013.96, -14.5), (2014.00, -16.0), (2014.04, -14.5), (2014.08, -16.0),
 (2014.12, -16.2), (2014.16, -17.8), (2014.20, -16.2), (2014.24, -17.5), (2014.28, -15.2),
 (2014.32, -16.2), (2014.36, -14.5), (2014.40, -15.8), (2014.44, -14.5), (2014.48, -15.8),
 (2014.52, -14.0), (2014.56, -12.8), (2014.60, -13.5), (2014.64, -12.0), (2014.68, -13.8),
 (2014.72, -12.0), (2014.76, -13.5), (2014.80, -11.5), (2014.84, -13.5), (2014.88, -13.2),
 (2014.92, -15.0), (2014.96, -13.5), (2015.00, -15.2), (2015.04, -14.0), (2015.08, -15.5),
 (2015.12, -13.5), (2015.16, -9.0), (2015.20, -5.5), (2015.22, -2.0), (2015.24, -0.5),
 (2015.28, -4.0), (2015.32, -5.5), (2015.36, -4.5), (2015.40, -5.8), (2015.44, -6.0),
 (2015.48, -7.2), (2015.52, -8.8), (2015.56, -8.0), (2015.60, -9.8), (2015.64, -10.0),
 (2015.68, -11.8), (2015.72, -11.0), (2015.76, -9.8), (2015.80, -9.0), (2015.84, -10.2),
 (2015.88, -11.8), (2015.92, -13.0), (2015.96, -12.0),
]

# start dates after Jan. 2016: no 10-year return available yet -> plotted at 0 %
A10_ZERO_YEARS = [
 2016.00, 2016.05, 2016.10, 2016.15, 2016.20, 2016.25, 2016.30, 2016.35, 2016.40, 2016.45,
 2016.50, 2016.55, 2016.60, 2016.65, 2016.70, 2016.75, 2016.80, 2016.85, 2016.90, 2016.95,
 2017.00, 2017.05, 2017.10, 2017.15, 2017.20, 2017.25, 2017.30, 2017.35, 2017.40, 2017.45,
 2017.50, 2017.55, 2017.60, 2017.65, 2017.70, 2017.75, 2017.80, 2017.85, 2017.90, 2017.95,
 2018.00, 2018.05, 2018.10, 2018.15, 2018.20, 2018.25, 2018.30, 2018.35, 2018.40, 2018.45,
 2018.50, 2018.55, 2018.60, 2018.65, 2018.70, 2018.75, 2018.80, 2018.85, 2018.90, 2018.95,
 2019.00, 2019.05, 2019.10, 2019.15, 2019.20, 2019.25, 2019.30, 2019.35, 2019.40, 2019.45,
 2019.50, 2019.55, 2019.60, 2019.65, 2019.70, 2019.75, 2019.80, 2019.85, 2019.90, 2019.95,
 2020.00, 2020.05, 2020.10, 2020.15, 2020.20, 2020.25, 2020.30, 2020.35, 2020.40, 2020.45,
 2020.50, 2020.55, 2020.60, 2020.65, 2020.70, 2020.75, 2020.80, 2020.85, 2020.90, 2020.95,
 2021.00, 2021.05, 2021.10, 2021.15, 2021.20, 2021.25, 2021.30, 2021.35, 2021.40, 2021.45,
 2021.50, 2021.55, 2021.60, 2021.65, 2021.70, 2021.75, 2021.80, 2021.85, 2021.90, 2021.95,
 2022.00, 2022.05, 2022.10, 2022.15, 2022.20, 2022.25, 2022.30, 2022.35, 2022.40, 2022.45,
 2022.50, 2022.55, 2022.60, 2022.65, 2022.70, 2022.75, 2022.80, 2022.85, 2022.90, 2022.95,
 2016.025, 2016.075, 2016.125, 2016.175, 2016.225, 2016.275, 2016.325, 2016.375, 2016.425,
 2016.475, 2016.525, 2016.575, 2016.625, 2016.675, 2016.725, 2016.775, 2016.825, 2016.875,
 2016.925, 2016.975, 2017.025, 2017.075, 2017.125, 2017.175, 2017.225, 2017.275, 2017.325,
 2017.375, 2017.425, 2017.475, 2017.525, 2017.575, 2017.625, 2017.675, 2017.725, 2017.775,
 2017.825, 2017.875, 2017.925, 2017.975, 2018.025, 2018.075, 2018.125, 2018.175, 2018.225,
 2018.275, 2018.325, 2018.375, 2018.425, 2018.475, 2018.525, 2018.575, 2018.625, 2018.675,
 2018.725, 2018.775, 2018.825, 2018.875, 2018.925, 2018.975, 2019.025, 2019.075, 2019.125,
 2019.175, 2019.225, 2019.275, 2019.325, 2019.375, 2019.425, 2019.475, 2019.525, 2019.575,
 2019.625, 2019.675, 2019.725, 2019.775, 2019.825, 2019.875, 2019.925, 2019.975, 2020.025,
 2020.075, 2020.125, 2020.175, 2020.225, 2020.275, 2020.325, 2020.375, 2020.425, 2020.475,
 2020.525, 2020.575, 2020.625, 2020.675, 2020.725, 2020.775, 2020.825, 2020.875, 2020.925,
 2020.975, 2021.025, 2021.075, 2021.125, 2021.175, 2021.225, 2021.275, 2021.325, 2021.375,
 2021.425, 2021.475, 2021.525, 2021.575, 2021.625, 2021.675, 2021.725, 2021.775, 2021.825,
 2021.875, 2021.925, 2021.975, 2022.025, 2022.075, 2022.125, 2022.175, 2022.225, 2022.275,
 2022.325, 2022.375, 2022.425, 2022.475, 2022.525, 2022.575, 2022.625, 2022.675, 2022.725,
 2022.775, 2022.825, 2022.875, 2022.925, 2022.975,
]
A10_ZERO_PCT = [0.0] * len(A10_ZERO_YEARS)

A04_YEAR = [v[0] for v in A04 + A04_SPREAD]
A04_PCT = [v[1] for v in A04 + A04_SPREAD]
A07_YEAR = [v[0] for v in A07 + A07_SPREAD]
A07_PCT = [v[1] for v in A07 + A07_SPREAD]
A10_YEAR = [v[0] for v in A10 + A10_SPREAD] + A10_ZERO_YEARS
A10_PCT = [v[1] for v in A10 + A10_SPREAD] + A10_ZERO_PCT

# ---------------- layout (page pixels) ----------------
FONT = "Lato"
GREY_TXT = "#595959"
GRID = "#d9d9d9"
GREEN = "#7dc87d"
W = 2086
H_BAR = 52            # green title band
H_MAIN = 1032 - H_BAR
PLOT_L, PLOT_R = 91, 2015      # page x of X_MIN / X_MAX
PLOT_T, PLOT_B = 100, 970      # page y of Y_MAX / Y_MIN


def xd(px):
    """page x -> data x"""
    return X_MIN + (px - PLOT_L) * (X_MAX - X_MIN) / (PLOT_R - PLOT_L)


def yd(py):
    """page y -> data y"""
    return Y_MAX - (py - PLOT_T) * (Y_MAX - Y_MIN) / (PLOT_B - PLOT_T)


Y_TOP = yd(H_BAR)   # frame reaches up to the title band so that the chart title is not clipped

# ---------------- title band ----------------
bar = figure(width=W, height=H_BAR, output_backend="svg", toolbar_location=None, title=None,
             x_range=Range1d(0, 1), y_range=Range1d(0, 1),
             min_border_left=PLOT_L, min_border_right=W - PLOT_R,
             min_border_top=44, min_border_bottom=0,
             x_axis_location=None, y_axis_location=None)
bar.outline_line_color = None
bar.background_fill_color = GREEN
bar.border_fill_color = GREEN
bar.grid.visible = False
bar.add_layout(Title(text=TITLE, align="center", vertical_align="middle", standoff=0,
                     text_font=FONT, text_font_style="bold", text_font_size="30.5px",
                     text_color="black"), "above")

# ---------------- main chart ----------------
p = figure(width=W, height=H_MAIN, output_backend="svg", toolbar_location=None, title=None,
           x_range=Range1d(X_MIN, X_MAX), y_range=Range1d(Y_MIN, Y_TOP),
           min_border_left=PLOT_L, min_border_right=W - PLOT_R,
           min_border_top=0, min_border_bottom=1032 - PLOT_B)
p.outline_line_color = None
p.background_fill_color = "white"
p.border_fill_color = "white"

p.xgrid.ticker = FixedTicker(ticks=X_TICKS)
p.xgrid.grid_line_color = GRID
p.xgrid.grid_line_width = 1.5
p.ygrid.ticker = FixedTicker(ticks=[t for t in Y_TICKS if t not in (0, Y_MIN)])
p.ygrid.grid_line_color = GRID
p.ygrid.grid_line_width = 1.5

p.xaxis.ticker = FixedTicker(ticks=X_TICKS)
p.xaxis.major_label_overrides = dict(zip(X_TICKS, X_TICK_LABELS))
p.yaxis.ticker = FixedTicker(ticks=Y_TICKS)
p.yaxis.major_label_overrides = dict(zip(Y_TICKS, Y_TICK_LABELS))
p.yaxis.bounds = (Y_MIN, Y_MAX)
for ax in (p.xaxis[0], p.yaxis[0]):
    ax.major_tick_line_color = None
    ax.minor_tick_line_color = None
    ax.major_tick_out = 0
    ax.major_tick_in = 0
    ax.major_label_text_font = FONT
    ax.major_label_text_color = GREY_TXT
p.xaxis.major_label_text_font_size = "18px"
p.xaxis.major_label_standoff = 13
p.xaxis.axis_line_color = GRID
p.xaxis.axis_line_width = 2
p.yaxis.major_label_text_font_size = "20px"
p.yaxis.major_label_standoff = 19
p.yaxis.axis_line_color = "#a6a6a6"
p.yaxis.axis_line_width = 2

p.add_layout(Span(location=AXIS_CROSS, dimension="width", line_color="#a6a6a6", line_width=2))

renderers = []
for xs, ys, col in ((A04_YEAR, A04_PCT, SERIES_COLORS[0]),
                    (A07_YEAR, A07_PCT, SERIES_COLORS[1]),
                    (A10_YEAR, A10_PCT, SERIES_COLORS[2])):
    r = p.scatter(xs, ys, marker="cross", size=10, line_width=2.4, line_color=col)
    renderers.append(r)

# blank strip above the 60 % line, chart border, white boxes behind chart title and legend
p.add_layout(BoxAnnotation(bottom=Y_MAX + 0.12, top=Y_TOP, fill_color="white", fill_alpha=1,
                           line_color=None))
p.add_layout(BoxAnnotation(top=yd(54.5), bottom=yd(57), fill_color=GRID, fill_alpha=1,
                           line_color=None))
p.add_layout(BoxAnnotation(left=xd(400), right=xd(1670), top=Y_MAX + 0.12, bottom=yd(162),
                           fill_color="white", fill_alpha=1, line_color=None))
p.add_layout(BoxAnnotation(left=xd(1702), right=X_MAX, top=yd(181), bottom=yd(420),
                           fill_color="white", fill_alpha=1, line_color=None))

# chart title (two lines)
for txt, py in ((SUBTITLE_1, 104), (SUBTITLE_2, 144)):
    p.add_layout(Label(x=xd(1037), y=yd(py), text=txt, text_align="center",
                       text_baseline="middle", text_font=FONT,
                       text_font_style="bold", text_font_size="25px", text_color=GREY_TXT))

legend = Legend(items=[LegendItem(label=n, renderers=[r]) for n, r in zip(SERIES_NAMES, renderers)],
                location=(1751 - PLOT_L, PLOT_B - 403),
                orientation="vertical", background_fill_alpha=0, border_line_color=None,
                label_text_font=FONT, label_text_font_size="26.5px", label_text_color=GREY_TXT,
                glyph_width=20, glyph_height=40, label_height=40, spacing=42, padding=10,
                label_standoff=4, margin=0)
p.add_layout(legend)

layout = column(bar, p, spacing=0)
open("out.html", "w").write(file_html(layout, INLINE))
